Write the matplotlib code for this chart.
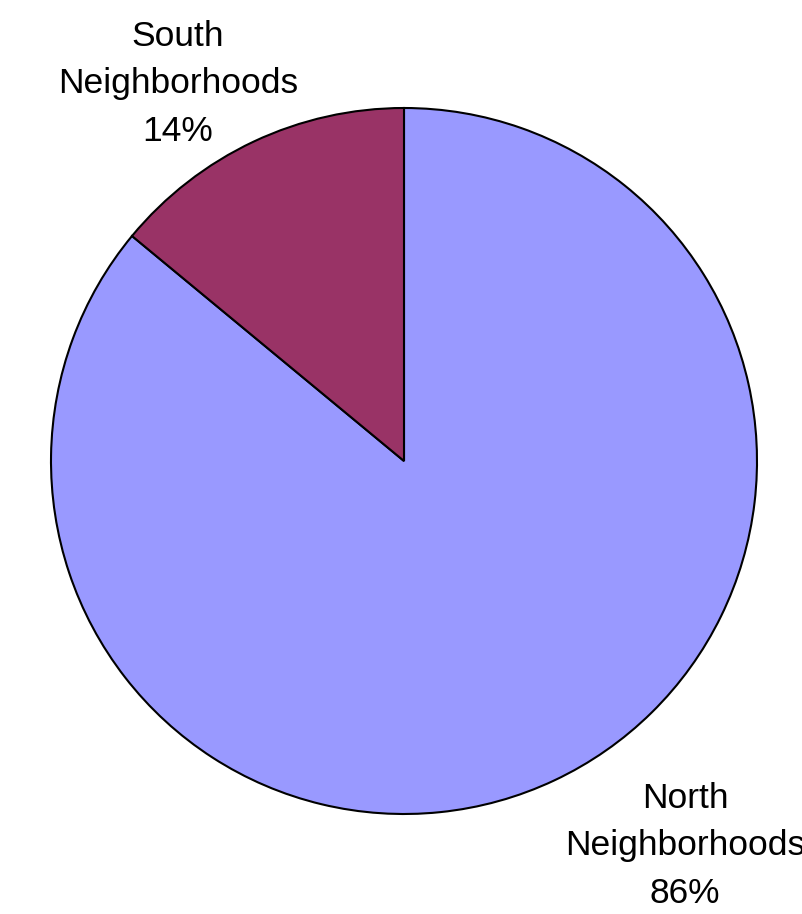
import matplotlib
matplotlib.use("Agg")
import matplotlib.pyplot as plt

categories = ["North\nNeighborhoods", "South\nNeighborhoods"]
values = [86, 14]
colors = ["#9999FF", "#993366"]
title = "Homeownership by Neighborhood"

plt.rcParams['font.family'] = ['Liberation Sans', 'DejaVu Sans']

fig = plt.figure(figsize=(8.03, 9.14), dpi=100)
W, H = 803, 914
cx, cy, r = 404, 461, 353
ax = fig.add_axes([(cx - r) / W, 1 - (cy + r) / H, 2 * r / W, 2 * r / H])
wedges, _ = ax.pie(values, colors=colors, startangle=90, counterclock=False,
                   wedgeprops=dict(edgecolor="black", linewidth=1.5))
ax.set_xlim(-1, 1); ax.set_ylim(-1, 1)
ax.set_aspect('equal'); ax.axis('off')

total = sum(values)
# label positions (pixels)
pos = {0: (685, 846), 1: (178, 84)}
for i, (c, v) in enumerate(zip(categories, values)):
    x, y = pos[i]
    fig.text(x / W, 1 - y / H, f"{c}\n{round(100 * v / total)}%", ha="center", va="center",
             fontsize=25.5, linespacing=1.56)

fig.text(401 / W, 1 + 11 / H, title, ha="center", va="baseline", fontsize=32, fontweight="bold")
fig.savefig("out.png", dpi=100)
